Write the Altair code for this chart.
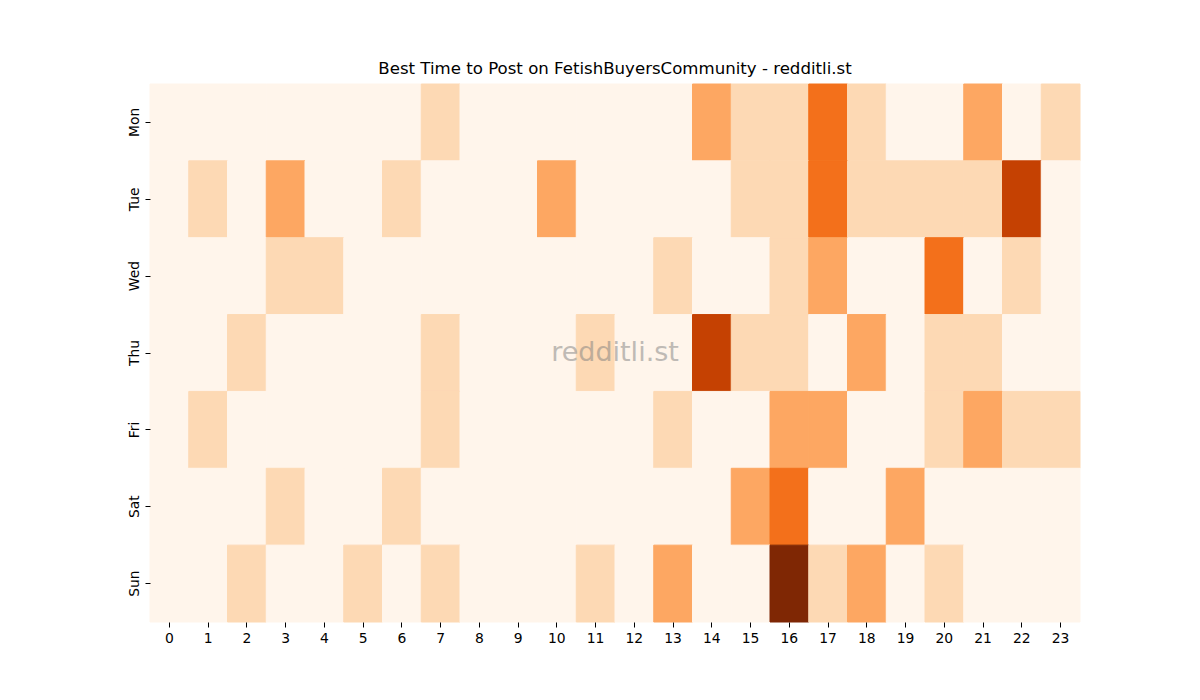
import altair as alt
import pandas as pd

# Posting activity per weekday and hour (binned levels 0-5)
days = ["Mon", "Tue", "Wed", "Thu", "Fri", "Sat", "Sun"]
hours = list(range(24))

mon = [0, 0, 0, 0, 0, 0, 0, 1, 0, 0, 0, 0, 0, 0, 2, 1, 1, 3, 1, 0, 0, 2, 0, 1]
tue = [0, 1, 0, 2, 0, 0, 1, 0, 0, 0, 2, 0, 0, 0, 0, 1, 1, 3, 1, 1, 1, 1, 4, 0]
wed = [0, 0, 0, 1, 1, 0, 0, 0, 0, 0, 0, 0, 0, 1, 0, 0, 1, 2, 0, 0, 3, 0, 1, 0]
thu = [0, 0, 1, 0, 0, 0, 0, 1, 0, 0, 0, 1, 0, 0, 4, 1, 1, 0, 2, 0, 1, 1, 0, 0]
fri = [0, 1, 0, 0, 0, 0, 0, 1, 0, 0, 0, 0, 0, 1, 0, 0, 2, 2, 0, 0, 1, 2, 1, 1]
sat = [0, 0, 0, 1, 0, 0, 1, 0, 0, 0, 0, 0, 0, 0, 0, 2, 3, 0, 0, 2, 0, 0, 0, 0]
sun = [0, 0, 1, 0, 0, 1, 0, 1, 0, 0, 0, 1, 0, 2, 0, 0, 5, 1, 2, 0, 1, 0, 0, 0]

rows = [mon, tue, wed, thu, fri, sat, sun]
records = []
for day, vals in zip(days, rows):
    for h, v in zip(hours, vals):
        records.append({"Day": day, "Hour": h, "Level": v})
df = pd.DataFrame(records)

# matplotlib "Oranges" sampled at the six levels
oranges = ["#fff5eb", "#fdd9b4", "#fda762", "#f3701b", "#c54102", "#7f2704"]
level_scale = alt.Scale(domain=[0, 1, 2, 3, 4, 5], range=oranges)

heat = alt.Chart(df).mark_rect(strokeWidth=1, opacity=1, fillOpacity=1, strokeOpacity=1).encode(
    x=alt.X("Hour:O", sort=hours, title=None,
            axis=alt.Axis(labelAngle=0, domain=False, tickSize=5, labelPadding=4)),
    y=alt.Y("Day:O", sort=days, title=None,
            axis=alt.Axis(labelAngle=-90, domain=False, tickSize=5, labelPadding=4,
                          labelAlign="center", labelBaseline="bottom")),
    color=alt.Color("Level:O", scale=level_scale, legend=None),
    stroke=alt.Stroke("Level:O", scale=level_scale, legend=None),
)

mark = alt.Chart(pd.DataFrame({"t": ["redditli.st"]})).mark_text(
    fontSize=27, color="#808080", opacity=0.5, font="DejaVu Sans"
).encode(
    text="t:N",
    x=alt.value(465),
    y=alt.value(269),
)

chart = alt.layer(heat, mark).properties(
    width=930,
    height=538,
    title=alt.TitleParams("Best Time to Post on FetishBuyersCommunity - redditli.st",
                          fontSize=16.6, fontWeight="normal", color="black",
                          font="DejaVu Sans", offset=6),
    autosize=alt.AutoSizeParams(type="none"),
    padding={"left": 142, "top": 76, "right": 100, "bottom": 60},
).configure_view(
    stroke=None
).configure_axis(
    labelFont="DejaVu Sans",
    labelFontSize=13.9,
    labelColor="black",
    tickColor="black",
    grid=False,
)

chart.save("out.html", embed_options={"renderer": "svg", "actions": False})
